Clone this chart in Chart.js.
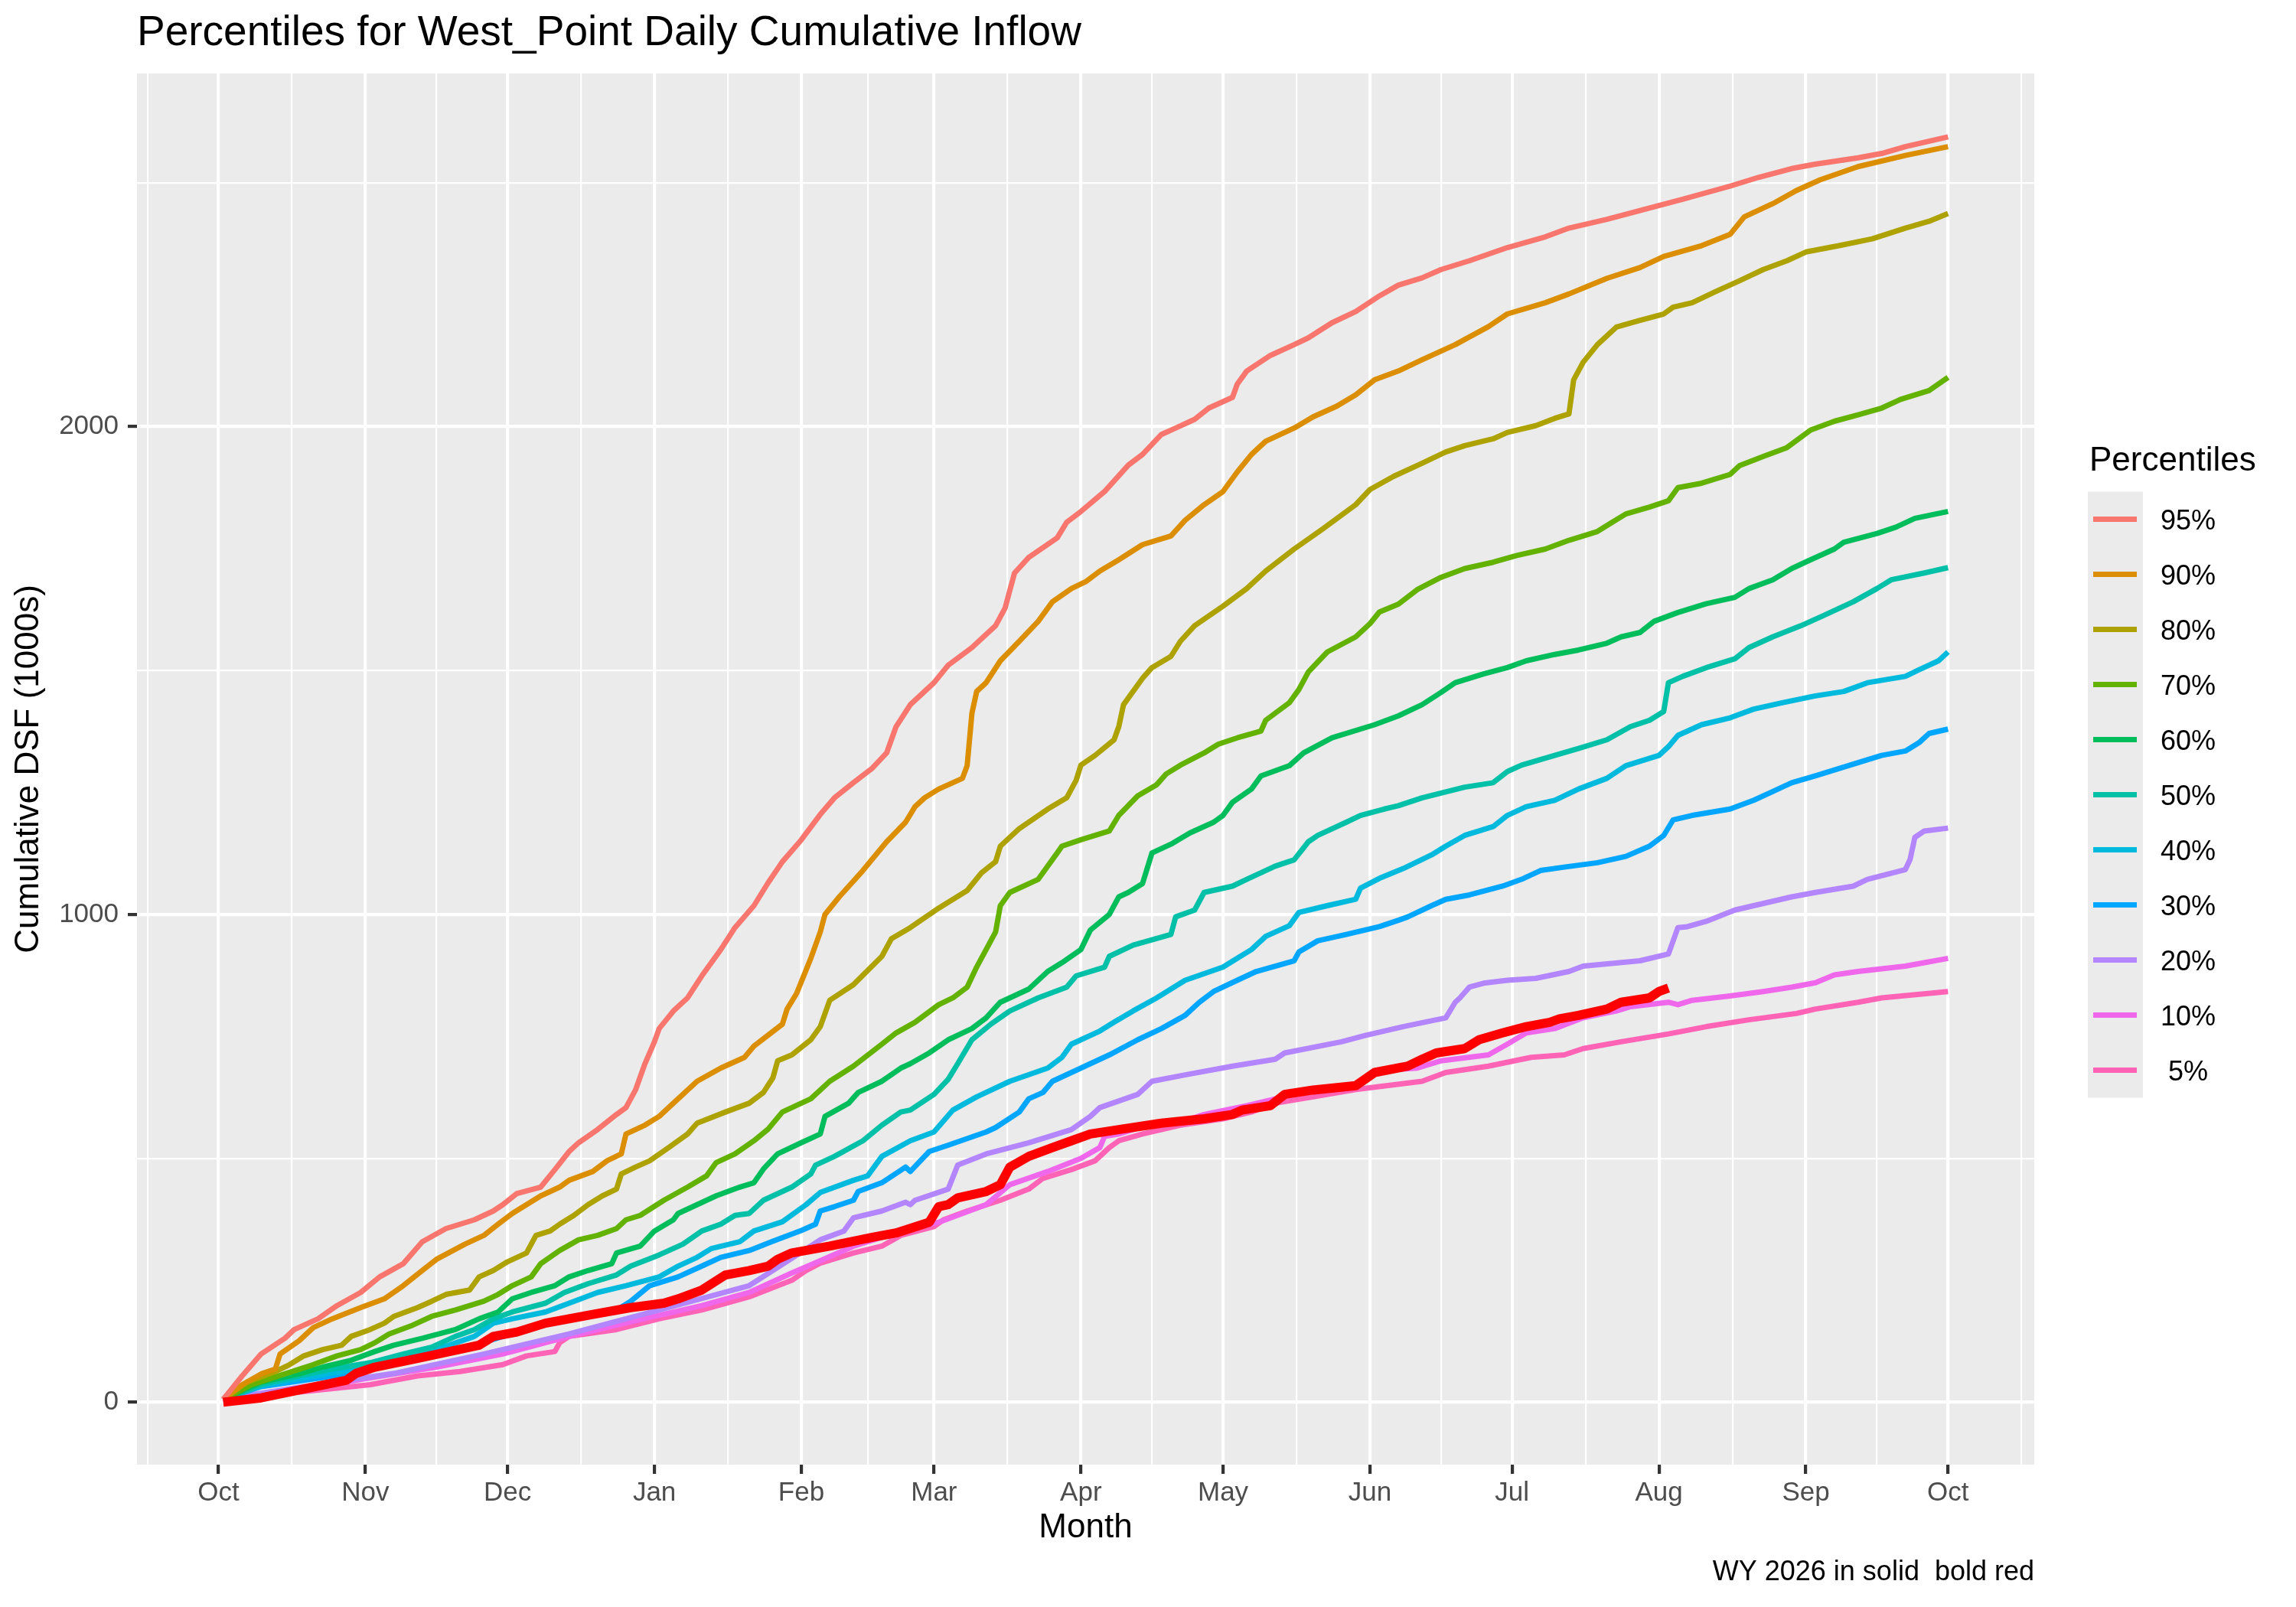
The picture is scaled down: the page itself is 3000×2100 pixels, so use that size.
<!DOCTYPE html>
<html>
<head>
<meta charset="utf-8">
<script src="https://cdn.jsdelivr.net/npm/chart.js@4.4.1/dist/chart.umd.min.js"></script>
<style>
html,body{margin:0;padding:0;background:#ffffff;}
canvas{display:block;}
</style>
</head>
<body>
<canvas id="c" width="3000" height="2100" style="width:3000px;height:2100px"></canvas>
<script>
// ---------- data (x = days since Oct 1, y = cumulative DSF in 1000s) ----------
const monthLabels = ['Oct','Nov','Dec','Jan','Feb','Mar','Apr','May','Jun','Jul','Aug','Sep','Oct'];
const monthDays   = [0,31,61,92,123,151,182,212,243,273,304,335,365];
const minorDays   = [-15,15.5,46,76.5,107.5,137,166.5,197,227.5,258,288.5,319.5,350,380.5];
const yMajorTicks = [0,1000,2000];
const yMinorTicks = [500,1500,2500];

const percentileLabels = ['95%','90%','80%','70%','60%','50%','40%','30%','20%','10%',' 5%'];
const percentileColors = ['#F8766D','#DB8E00','#AEA200','#64B200','#00BD5C','#00C1A7','#00BADE','#00A6FF','#B385FF','#EF67EB','#FF63B6'];

const p95 = [[1,6],[5,54],[9,99],[14,131],[16,149],[21,171],[25,198],[30,225],[34,257],[39,284],[43,329],[48,356],[54,374],[58,392],[60,405],[63,428],[68,441],[71,477],[74,514],[76,532],[80,559],[84,590],[86,604],[88,640],[90,694],[92,739],[93,766],[96,802],[99,829],[102,874],[106,928],[109,973],[113,1018],[116,1065],[119,1108],[123,1153],[127,1205],[130,1239],[134,1270],[138,1300],[141,1331],[143,1385],[146,1430],[151,1475],[154,1511],[159,1547],[164,1592],[166,1628],[167,1664],[168,1700],[171,1732],[177,1772],[179,1804],[182,1826],[187,1867],[192,1921],[195,1943],[199,1984],[202,1997],[206,2015],[209,2038],[214,2060],[215,2087],[217,2114],[222,2146],[227,2168],[230,2182],[235,2213],[240,2236],[245,2268],[249,2290],[254,2305],[258,2322],[264,2340],[272,2367],[280,2389],[285,2407],[293,2425],[300,2443],[309,2466],[319,2493],[325,2511],[332,2529],[337,2538],[346,2551],[351,2560],[356,2574],[365,2594]];
const p90 = [[1,6],[5,36],[9,58],[12,68],[13,99],[17,126],[20,153],[24,171],[30,194],[35,212],[39,239],[43,270],[46,293],[52,324],[56,342],[59,365],[62,387],[68,423],[72,441],[74,455],[79,473],[82,495],[85,509],[86,550],[90,568],[93,586],[97,622],[101,658],[106,685],[111,707],[113,730],[119,775],[120,806],[122,838],[125,910],[127,964],[128,1000],[131,1036],[136,1090],[141,1149],[145,1189],[147,1221],[149,1239],[152,1257],[157,1279],[158,1305],[159,1412],[160,1457],[162,1475],[165,1520],[169,1560],[173,1601],[176,1641],[180,1668],[183,1682],[186,1704],[190,1727],[195,1758],[201,1776],[204,1808],[208,1840],[212,1867],[215,1907],[218,1943],[221,1970],[227,1997],[231,2020],[236,2042],[240,2065],[244,2096],[249,2114],[254,2137],[261,2168],[268,2205],[272,2231],[280,2254],[285,2272],[293,2304],[300,2326],[305,2349],[313,2371],[319,2394],[322,2430],[328,2457],[333,2484],[338,2506],[346,2533],[356,2556],[365,2574]];
const p80 = [[1,6],[6,41],[12,63],[15,77],[18,95],[22,108],[26,117],[28,135],[32,149],[35,162],[37,176],[42,194],[45,207],[48,221],[53,230],[55,257],[58,270],[61,288],[65,306],[67,342],[70,351],[72,365],[75,383],[78,405],[81,423],[84,437],[85,468],[88,482],[91,495],[95,522],[99,550],[101,572],[107,595],[112,613],[115,635],[117,665],[118,700],[121,712],[125,743],[127,770],[129,824],[134,856],[140,914],[142,950],[146,973],[152,1013],[158,1049],[161,1085],[164,1108],[165,1140],[169,1176],[175,1216],[179,1239],[181,1275],[182,1306],[185,1326],[189,1358],[190,1385],[191,1430],[193,1457],[195,1484],[197,1506],[201,1529],[203,1560],[206,1592],[212,1632],[217,1668],[221,1704],[227,1749],[233,1790],[240,1840],[243,1871],[248,1898],[254,1925],[259,1948],[263,1961],[269,1975],[272,1988],[278,2002],[282,2017],[285,2026],[286,2096],[288,2132],[291,2168],[295,2204],[300,2218],[305,2231],[307,2245],[311,2254],[316,2277],[321,2299],[326,2322],[331,2340],[335,2358],[342,2371],[349,2385],[356,2407],[361,2421],[365,2437]];
const p70 = [[1,6],[7,36],[14,58],[20,77],[25,95],[30,108],[33,122],[36,140],[41,158],[45,176],[50,189],[56,207],[59,221],[62,239],[66,257],[68,284],[72,311],[76,333],[80,342],[84,356],[86,374],[89,383],[94,414],[99,441],[103,464],[105,491],[109,509],[113,536],[116,560],[119,595],[123,613],[125,622],[129,658],[134,689],[140,734],[143,757],[147,779],[152,815],[155,829],[158,851],[160,892],[162,928],[164,964],[165,1018],[167,1045],[173,1072],[177,1126],[178,1140],[182,1153],[188,1171],[190,1203],[194,1243],[198,1266],[200,1288],[203,1306],[208,1331],[211,1349],[215,1362],[220,1376],[221,1398],[226,1434],[228,1461],[230,1497],[234,1538],[240,1569],[243,1596],[245,1620],[249,1636],[253,1666],[258,1691],[263,1709],[269,1722],[274,1736],[280,1749],[285,1767],[291,1785],[294,1803],[297,1821],[302,1835],[306,1848],[308,1875],[313,1884],[319,1902],[321,1920],[326,1939],[331,1957],[336,1993],[341,2011],[346,2024],[351,2038],[355,2056],[361,2074],[365,2101]];
const p60 = [[1,6],[9,41],[17,58],[22,72],[28,86],[33,104],[37,117],[43,131],[50,149],[55,171],[59,185],[62,212],[66,225],[71,239],[74,257],[78,270],[83,284],[84,306],[89,320],[92,351],[96,374],[97,387],[101,405],[105,423],[110,441],[113,450],[115,478],[118,509],[123,532],[127,550],[128,586],[133,613],[135,635],[140,658],[144,685],[146,694],[150,716],[154,743],[159,766],[162,788],[165,820],[171,847],[175,883],[178,901],[182,928],[184,968],[188,1000],[190,1036],[192,1045],[195,1063],[197,1126],[201,1144],[205,1167],[210,1189],[212,1203],[214,1230],[218,1257],[220,1284],[226,1305],[229,1331],[235,1362],[244,1389],[249,1407],[254,1430],[258,1455],[261,1475],[267,1493],[272,1506],[276,1520],[282,1533],[287,1542],[293,1556],[296,1569],[300,1578],[303,1601],[308,1619],[314,1637],[320,1650],[323,1668],[328,1686],[332,1709],[336,1727],[341,1749],[343,1763],[350,1781],[354,1794],[358,1812],[365,1826]];
const p50 = [[1,6],[9,36],[17,54],[24,68],[32,81],[39,99],[45,113],[50,135],[54,149],[58,171],[62,185],[69,203],[73,225],[78,243],[84,261],[87,279],[93,302],[98,324],[102,351],[106,365],[109,383],[112,387],[115,414],[121,441],[125,468],[126,486],[130,504],[136,536],[140,568],[144,595],[146,599],[151,631],[154,662],[156,694],[159,743],[163,775],[167,802],[173,829],[179,851],[181,874],[187,892],[188,914],[193,937],[201,959],[202,995],[206,1009],[208,1045],[214,1058],[217,1072],[223,1099],[227,1112],[230,1149],[232,1162],[238,1189],[241,1203],[246,1216],[249,1223],[254,1239],[263,1261],[269,1270],[272,1293],[275,1306],[282,1326],[287,1340],[293,1358],[298,1385],[302,1398],[305,1416],[306,1475],[309,1488],[314,1506],[320,1524],[323,1547],[328,1569],[334,1592],[339,1614],[345,1641],[350,1668],[353,1686],[360,1700],[365,1711]];
const p40 = [[1,6],[9,34],[18,50],[26,63],[32,74],[39,90],[46,108],[54,135],[58,162],[62,171],[69,185],[74,203],[80,225],[86,239],[93,257],[97,279],[101,297],[104,315],[110,329],[113,351],[119,370],[124,405],[127,430],[134,455],[137,464],[140,504],[146,536],[151,554],[155,599],[160,626],[167,658],[175,685],[178,707],[180,734],[186,761],[189,779],[193,802],[198,829],[201,847],[204,865],[212,892],[215,910],[218,928],[221,955],[226,977],[228,1004],[234,1018],[240,1031],[241,1054],[245,1074],[250,1094],[256,1122],[259,1140],[263,1162],[269,1180],[272,1203],[276,1221],[282,1234],[287,1257],[293,1279],[297,1305],[304,1326],[306,1344],[308,1367],[313,1389],[319,1403],[324,1421],[330,1434],[337,1448],[343,1457],[348,1475],[356,1488],[359,1502],[363,1520],[365,1538]];
const p30 = [[1,6],[9,32],[18,45],[28,59],[37,77],[46,99],[54,117],[60,135],[70,167],[79,180],[84,189],[87,207],[91,239],[97,257],[102,279],[106,297],[112,311],[117,330],[123,352],[126,365],[127,392],[130,401],[134,414],[135,432],[140,450],[145,482],[146,473],[150,514],[154,527],[162,554],[164,563],[169,595],[171,622],[174,635],[176,658],[180,676],[188,712],[194,743],[199,766],[204,793],[207,820],[210,842],[215,865],[219,883],[227,905],[228,923],[232,946],[238,959],[245,975],[249,988],[251,995],[256,1018],[259,1031],[264,1040],[271,1058],[275,1072],[279,1090],[284,1097],[291,1106],[297,1119],[302,1140],[305,1162],[307,1194],[311,1203],[319,1216],[324,1234],[328,1252],[332,1270],[337,1284],[343,1302],[351,1326],[356,1335],[359,1353],[361,1371],[365,1380]];
const p20 = [[1,6],[18,32],[37,59],[56,99],[74,140],[93,189],[112,239],[121,295],[127,333],[132,351],[134,378],[140,392],[145,410],[146,405],[147,414],[154,437],[156,486],[162,509],[171,532],[180,559],[184,586],[186,604],[194,631],[197,658],[204,671],[214,689],[223,703],[225,716],[237,739],[242,752],[250,770],[257,784],[259,788],[261,820],[262,829],[264,851],[267,859],[272,865],[278,869],[285,883],[288,894],[300,905],[306,919],[308,973],[310,975],[314,986],[320,1009],[324,1018],[332,1036],[337,1045],[345,1058],[348,1072],[356,1092],[357,1113],[358,1158],[360,1171],[365,1177]];
const p10 = [[1,5],[18,27],[32,50],[46,72],[60,99],[74,135],[88,167],[102,198],[112,225],[121,265],[127,290],[134,320],[143,347],[152,369],[162,405],[167,446],[175,473],[182,500],[186,522],[187,545],[190,550],[196,568],[204,577],[208,590],[217,608],[227,631],[240,653],[245,680],[253,685],[258,700],[268,712],[272,734],[276,757],[282,766],[288,788],[295,802],[298,811],[306,820],[308,815],[311,824],[319,833],[326,842],[332,851],[337,860],[341,876],[346,883],[356,894],[360,901],[365,910]];
const p5  = [[1,4],[14,18],[23,27],[32,36],[37,45],[42,54],[51,63],[60,77],[65,95],[71,104],[72,122],[74,135],[84,149],[93,171],[102,189],[112,216],[121,250],[124,270],[127,285],[134,306],[140,320],[144,342],[151,360],[153,374],[158,392],[165,414],[171,437],[174,459],[180,477],[185,495],[188,522],[190,536],[195,550],[203,568],[212,581],[218,595],[223,613],[231,626],[240,641],[254,658],[259,676],[268,689],[277,707],[284,712],[288,725],[296,739],[306,755],[314,770],[323,784],[333,797],[337,806],[346,820],[351,829],[365,842]];
const wy2026 = [[1,0],[9,9],[18,27],[27,45],[29,59],[33,72],[42,90],[55,117],[58,135],[63,144],[69,162],[79,180],[87,194],[94,203],[97,212],[102,230],[107,261],[112,270],[116,279],[118,293],[121,306],[129,320],[138,338],[143,347],[150,369],[152,401],[154,405],[156,419],[162,432],[165,446],[167,482],[171,504],[176,522],[180,536],[184,550],[190,559],[199,572],[208,581],[214,590],[216,599],[222,608],[225,631],[231,640],[240,649],[244,676],[251,689],[254,703],[257,716],[263,725],[266,743],[271,757],[276,770],[281,779],[283,786],[287,793],[293,806],[296,820],[302,829],[304,842],[306,849]];

const percentileSeries = [p95,p90,p80,p70,p60,p50,p40,p30,p20,p10,p5];

const titleText   = 'Percentiles for West_Point Daily Cumulative Inflow';
const captionText = 'WY 2026 in solid  bold red';
const legendTitle = 'Percentiles';
const xTitle = 'Month';
const yTitle = 'Cumulative DSF (1000s)';

// ---------- chart ----------
const FONT = "'Liberation Sans', Arial, Helvetica, sans-serif";
Chart.defaults.font.family = FONT;

const LINE_W = 7;
const RED_W = 12;

const toXY = arr => arr.map(p => ({x: p[0], y: p[1]}));

const datasets = [{
  label: 'WY 2026', data: toXY(wy2026), borderColor: '#FF0000', borderWidth: RED_W,
  pointRadius: 0, tension: 0, borderJoinStyle: 'round', fill: false, isCurrent: true
}];
percentileSeries.forEach((s, i) => {
  datasets.push({
    label: percentileLabels[i], data: toXY(s), borderColor: percentileColors[i],
    borderWidth: LINE_W, pointRadius: 0, tension: 0, borderJoinStyle: 'round', fill: false
  });
});

const isMajorX = v => monthDays.indexOf(v) >= 0;
const isMajorY = v => yMajorTicks.indexOf(v) >= 0;

const panelPlugin = {
  id: 'panelBg',
  beforeDraw(chart) {
    const {ctx, chartArea: a} = chart;
    ctx.save();
    ctx.fillStyle = '#FFFFFF';
    ctx.fillRect(0, 0, chart.width, chart.height);
    ctx.fillStyle = '#EBEBEB';
    ctx.fillRect(a.left, a.top, a.right - a.left, a.bottom - a.top);
    ctx.restore();
  }
};

const legendPlugin = {
  id: 'ggLegend',
  afterDraw(chart) {
    const {ctx, chartArea: a} = chart;
    const items = chart.data.datasets.filter(d => !d.isCurrent);
    const keyH = 72, keyW = 72;
    const titleH = 67;
    const totalH = titleH + keyH * items.length;
    const top = (a.top + a.bottom) / 2 - totalH / 2;
    const x0 = a.right + 70;
    ctx.save();
    ctx.fillStyle = '#000000';
    ctx.textAlign = 'left';
    ctx.textBaseline = 'alphabetic';
    ctx.font = '44px ' + FONT;
    ctx.fillText(legendTitle, x0 + 2, top + 39);
    const keysTop = top + titleH;
    ctx.fillStyle = '#EBEBEB';
    ctx.fillRect(x0, keysTop, keyW, keyH * items.length);
    ctx.font = '36px ' + FONT;
    items.forEach((d, i) => {
      const cy = keysTop + keyH * i + keyH / 2;
      ctx.strokeStyle = d.borderColor;
      ctx.lineWidth = LINE_W;
      ctx.lineCap = 'butt';
      ctx.beginPath();
      ctx.moveTo(x0 + 7, cy);
      ctx.lineTo(x0 + keyW - 8, cy);
      ctx.stroke();
      ctx.fillStyle = '#000000';
      ctx.fillText(d.label, x0 + keyW + 23, cy + 13);
    });
    ctx.restore();
  }
};

new Chart(document.getElementById('c'), {
  type: 'line',
  data: { datasets },
  plugins: [panelPlugin, legendPlugin],
  options: {
    responsive: false,
    animation: false,
    devicePixelRatio: 1,
    layout: { padding: { top: 0, right: 342, bottom: 0, left: 0 } },
    plugins: {
      legend: { display: false },
      tooltip: { enabled: false },
      title: {
        display: true, text: titleText, align: 'start', fullSize: false,
        color: '#000000', font: { size: 55, weight: 'normal' },
        padding: { top: 10.5, bottom: 19.5 }
      },
      subtitle: {
        display: true, text: captionText, position: 'bottom', align: 'end', fullSize: false,
        color: '#000000', font: { size: 36, weight: 'normal' },
        padding: { top: 0, bottom: 23 }
      }
    },
    scales: {
      x: {
        type: 'linear', min: -17.2, max: 383.2,
        afterBuildTicks: s => {
          s.ticks = monthDays.concat(minorDays).sort((a, b) => a - b).map(v => ({ value: v }));
        },
        afterFit: s => { s.height = 119.8; },
        border: { display: false },
        grid: {
          color: '#FFFFFF',
          lineWidth: c => (c.tick && isMajorX(c.tick.value)) ? 4.2 : 2.2,
          drawTicks: true, tickLength: 12,
          tickColor: c => (c.tick && isMajorX(c.tick.value)) ? '#333333' : 'rgba(0,0,0,0)',
          tickWidth: 4.2
        },
        ticks: {
          autoSkip: false, maxRotation: 0, minRotation: 0, padding: 4,
          color: '#4D4D4D', font: { size: 35 },
          callback: v => { const i = monthDays.indexOf(v); return i >= 0 ? monthLabels[i] : ''; }
        },
        title: { display: true, text: xTitle, color: '#000000', font: { size: 44 }, padding: { top: 0, bottom: 10.4 } }
      },
      y: {
        type: 'linear', min: -128, max: 2724,
        afterBuildTicks: s => {
          s.ticks = yMajorTicks.concat(yMinorTicks).sort((a, b) => a - b).map(v => ({ value: v }));
        },
        afterFit: s => { s.width = 179; },
        border: { display: false },
        grid: {
          color: '#FFFFFF',
          lineWidth: c => (c.tick && isMajorY(c.tick.value)) ? 4.2 : 2.2,
          drawTicks: true, tickLength: 12,
          tickColor: c => (c.tick && isMajorY(c.tick.value)) ? '#333333' : 'rgba(0,0,0,0)',
          tickWidth: 4.2
        },
        ticks: {
          autoSkip: false, padding: 12, color: '#4D4D4D', font: { size: 35 },
          callback: v => isMajorY(v) ? String(v) : ''
        },
        title: { display: true, text: yTitle, color: '#000000', font: { size: 44 }, padding: { top: 11.6, bottom: 0 } }
      }
    }
  }
});
</script>
</body>
</html>
